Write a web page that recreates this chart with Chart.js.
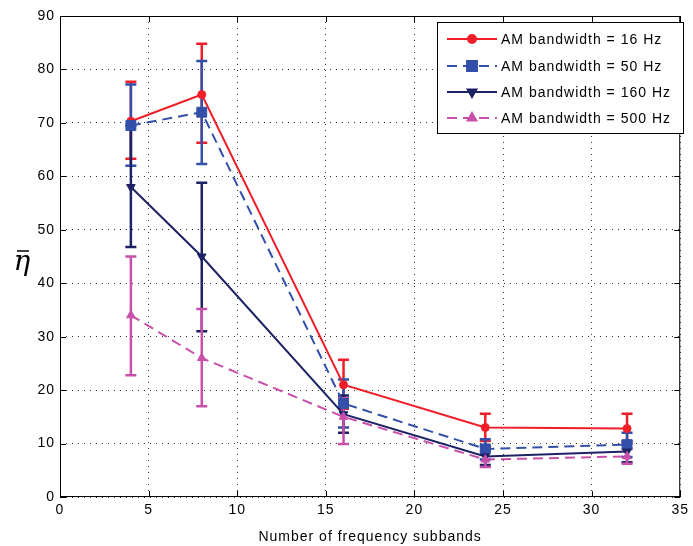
<!DOCTYPE html>
<html>
<head>
<meta charset="utf-8">
<script src="https://cdn.jsdelivr.net/npm/chart.js@4"></script>
<style>
  html, body { margin: 0; padding: 0; background: #fff; }
  #wrap { width: 693px; height: 546px; }
</style>
</head>
<body>
<div id="wrap"><canvas id="chart" width="693" height="546"></canvas></div>
<script>
// ---------------- data ----------------
const subbands = [4, 8, 16, 24, 32];
const xTicks = [0, 5, 10, 15, 20, 25, 30, 35];
const yTicks = [0, 10, 20, 30, 40, 50, 60, 70, 80, 90];

const bw16   = [70.3, 75.3, 21.0, 13.0, 12.8];
const bw16Hi = [77.7, 84.8, 25.7, 15.6, 15.6];
const bw16Lo = [63.3, 66.3, 16.5, 10.5, 10.0];

const bw50   = [69.5, 72.0, 17.5, 9.0, 9.8];
const bw50Hi = [77.2, 81.6, 22.0, 10.8, 12.0];
const bw50Lo = [62.0, 62.3, 13.0, 7.0, 7.5];

const bw160   = [58.0, 45.0, 15.5, 7.6, 8.5];
const bw160Hi = [69.5, 58.8, 19.0, 9.5, 10.5];
const bw160Lo = [46.8, 31.0, 12.0, 6.0, 6.5];

const bw500   = [34.0, 26.0, 15.0, 7.0, 7.6];
const bw500Hi = [45.0, 35.2, 18.5, 8.5, 9.0];
const bw500Lo = [22.8, 17.0, 9.9, 5.6, 6.2];

const labels = ['AM bandwidth = 16 Hz', 'AM bandwidth = 50 Hz', 'AM bandwidth = 160 Hz', 'AM bandwidth = 500 Hz'];
const colors = ['rgb(240,30,40)', 'rgb(50,80,170)', 'rgb(28,34,100)', 'rgb(200,80,170)'];

const FONT = '"Liberation Sans", Arial, sans-serif';

function pts(vals) {
    return vals.map((v, i) => ({x: subbands[i], y: v}));
}

const series = [
    {v: bw16, hi: bw16Hi, lo: bw16Lo, dash: [], style: 'circle', rot: 0, r: 4},
    {v: bw50, hi: bw50Hi, lo: bw50Lo, dash: [10, 6], style: 'rect', rot: 0, r: 7},
    {v: bw160, hi: bw160Hi, lo: bw160Lo, dash: [], style: 'triangle', rot: 180, r: 5},
    {v: bw500, hi: bw500Hi, lo: bw500Lo, dash: [10, 6], style: 'triangle', rot: 0, r: 5},
];

// error bars, frame, inward ticks, legend, y label
const extras = {
    id: 'extras',
    beforeDraw(chart) {
        chart.ctx.letterSpacing = '1px';
    },
    beforeDatasetsDraw(chart) {
        const {ctx, chartArea: a, scales: {x, y}} = chart;
        ctx.save();
        ctx.lineWidth = 2.5;
        series.forEach((s, k) => {
            ctx.strokeStyle = colors[k];
            s.v.forEach((v, i) => {
                const px = x.getPixelForValue(subbands[i]);
                const top = y.getPixelForValue(s.hi[i]);
                const bot = y.getPixelForValue(s.lo[i]);
                ctx.beginPath();
                ctx.moveTo(px, top); ctx.lineTo(px, bot);
                ctx.moveTo(px - 5.5, top); ctx.lineTo(px + 5.5, top);
                ctx.moveTo(px - 5.5, bot); ctx.lineTo(px + 5.5, bot);
                ctx.stroke();
            });
        });
        ctx.restore();
    },
    afterDraw(chart) {
        const {ctx, chartArea: a, scales: {x, y}} = chart;
        ctx.save();
        // frame
        ctx.strokeStyle = '#000';
        ctx.lineWidth = 1;
        ctx.strokeRect(a.left + 0.5, a.top + 0.5, a.right - a.left - 1, a.bottom - a.top - 1);
        // inward ticks
        ctx.beginPath();
        xTicks.forEach(t => {
            const px = Math.round(x.getPixelForValue(t)) + 0.5;
            ctx.moveTo(px, a.bottom); ctx.lineTo(px, a.bottom - 6);
            ctx.moveTo(px, a.top); ctx.lineTo(px, a.top + 6);
        });
        yTicks.forEach(t => {
            const py = Math.round(y.getPixelForValue(t)) + 0.5;
            ctx.moveTo(a.left, py); ctx.lineTo(a.left + 6, py);
            ctx.moveTo(a.right, py); ctx.lineTo(a.right - 6, py);
        });
        ctx.stroke();

        // legend
        const lx = 437, ly = 22, lw = 246, lh = 111;
        ctx.fillStyle = '#fff';
        ctx.fillRect(lx, ly, lw, lh);
        ctx.strokeRect(lx + 0.5, ly + 0.5, lw, lh);
        const rows = [39, 66, 92, 118];
        ctx.font = '14px ' + FONT;
        ctx.letterSpacing = '1px';
        ctx.textBaseline = 'middle';
        series.forEach((s, k) => {
            const ry = rows[k];
            ctx.strokeStyle = colors[k];
            ctx.fillStyle = colors[k];
            ctx.lineWidth = 2;
            ctx.setLineDash(s.dash);
            ctx.beginPath();
            ctx.moveTo(447, ry); ctx.lineTo(497, ry);
            ctx.stroke();
            ctx.setLineDash([]);
            Chart.helpers.drawPoint(ctx, {pointStyle: s.style, radius: s.r, rotation: s.rot, borderWidth: 1}, 472, ry);
            ctx.fill();
            ctx.fillStyle = '#000';
            ctx.fillText(labels[k], 501, ry + 1);
        });

        // y label: eta bar
        ctx.letterSpacing = '0px';
        ctx.fillStyle = '#000';
        ctx.font = 'italic 28px "DejaVu Serif", "Liberation Serif", serif';
        ctx.textAlign = 'center';
        ctx.textBaseline = 'alphabetic';
        ctx.fillText('\u03b7', 22, 270);
        ctx.lineWidth = 1.5;
        ctx.strokeStyle = '#000';
        ctx.beginPath();
        ctx.moveTo(17, 251); ctx.lineTo(29, 251);
        ctx.stroke();
        ctx.restore();
    }
};

const datasets = series.map((s, k) => ({
    label: labels[k],
    data: pts(s.v),
    borderColor: colors[k],
    backgroundColor: colors[k],
    borderWidth: 2,
    borderDash: s.dash,
    pointStyle: s.style,
    pointRotation: s.rot,
    pointRadius: s.r,
    pointBorderWidth: 1,
    tension: 0,
    order: 4 - k,
}));

new Chart(document.getElementById('chart'), {
    type: 'line',
    data: {datasets: datasets},
    options: {
        responsive: false,
        animation: false,
        layout: {padding: {top: 16, right: 6, left: 0, bottom: 0}},
        plugins: {legend: {display: false}, tooltip: {enabled: false}},
        scales: {
            x: {
                type: 'linear', min: 0, max: 35,
                afterBuildTicks: sc => { sc.ticks = xTicks.map(v => ({value: v})); },
                afterFit: sc => { sc.height = 49; },
                grid: {color: '#333', lineWidth: 1, drawTicks: false},
                border: {display: false, dash: [1, 5]},
                ticks: {color: '#000', font: {family: FONT, size: 14}, padding: 5, maxRotation: 0},
                title: {display: true, text: 'Number of frequency subbands', color: '#000',
                        font: {family: FONT, size: 14}, padding: {top: 2, bottom: 0}}
            },
            y: {
                type: 'linear', min: 0, max: 90,
                afterBuildTicks: sc => { sc.ticks = yTicks.map(v => ({value: v})); },
                afterFit: sc => { sc.width = 60; },
                grid: {color: '#333', lineWidth: 1, drawTicks: false},
                border: {display: false, dash: [1, 5]},
                ticks: {color: '#000', font: {family: FONT, size: 14}, padding: 5}
            }
        }
    },
    plugins: [extras]
});
</script>
</body>
</html>
